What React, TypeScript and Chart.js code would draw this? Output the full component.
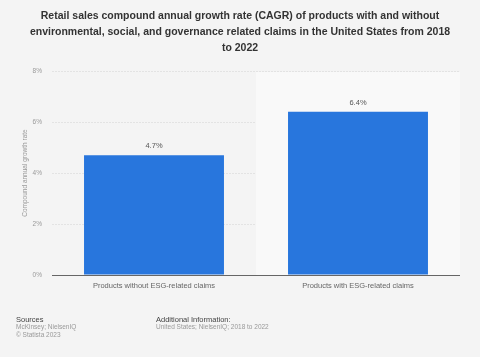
import React, { useEffect, useRef } from "react";
import { Chart, registerables } from "chart.js";

Chart.register(...registerables);

const categories = ["Products without ESG-related claims", "Products with ESG-related claims"];
const values = [4.7, 6.4];
const valueLabels = ["4.7%", "6.4%"];
const titleLines = [
  "Retail sales compound annual growth rate (CAGR) of products with and without",
  "environmental, social, and governance related claims in the United States from 2018",
  "to 2022",
];
const yAxisTitle = "Compound annual growth rate";
const highlightIndex = 1;

const FONT = "'Liberation Sans', Arial, Helvetica, sans-serif";

const decorPlugin = {
  id: "decor",
  beforeDatasetsDraw(chart: any) {
    const { ctx, chartArea } = chart;
    const n = categories.length;
    const w = (chartArea.right - chartArea.left) / n;
    const left = chartArea.left + w * highlightIndex;
    ctx.save();
    ctx.fillStyle = "#f9f9f9";
    ctx.fillRect(left, chartArea.top + 1, w, chartArea.bottom - chartArea.top - 1);
    ctx.restore();
  },
  afterDatasetsDraw(chart: any) {
    const { ctx, chartArea } = chart;
    const meta = chart.getDatasetMeta(0);
    ctx.save();
    ctx.strokeStyle = "#666";
    ctx.lineWidth = 1;
    ctx.beginPath();
    ctx.moveTo(chartArea.left, Math.round(chartArea.bottom) + 0.5);
    ctx.lineTo(chartArea.right, Math.round(chartArea.bottom) + 0.5);
    ctx.stroke();
    ctx.fillStyle = "#555";
    ctx.font = `7.5px ${FONT}`;
    ctx.textAlign = "center";
    ctx.textBaseline = "bottom";
    meta.data.forEach((bar: any, i: number) => {
      ctx.fillText(valueLabels[i], bar.x, bar.y - 5);
    });
    ctx.restore();
  },
  afterDraw(chart: any) {
    const { ctx } = chart;
    ctx.save();
    ctx.fillStyle = "#333";
    ctx.font = `bold 10.5px ${FONT}`;
    ctx.textAlign = "center";
    ctx.textBaseline = "middle";
    titleLines.forEach((l, i) => ctx.fillText(l, 240, 16 + i * 16));
    ctx.textAlign = "left";
    ctx.font = `7.5px ${FONT}`;
    ctx.fillStyle = "#444";
    ctx.fillText("Sources", 16, 320);
    ctx.fillText("Additional Information:", 156, 320);
    ctx.fillStyle = "#999";
    ctx.font = `6.5px ${FONT}`;
    ctx.fillText("McKinsey; NielsenIQ", 16, 327.5);
    ctx.fillText("© Statista 2023", 16, 335);
    ctx.fillText("United States; NielsenIQ; 2018 to 2022", 156, 327.5);
    ctx.restore();
  },
};

export default function App() {
  const ref = useRef<HTMLCanvasElement>(null);
  useEffect(() => {
    if (!ref.current) return;
    const chart = new Chart(ref.current, {
      type: "bar",
      data: {
        labels: categories,
        datasets: [
          {
            data: values,
            backgroundColor: "#2876dd",
            borderWidth: 0,
            categoryPercentage: 1,
            barPercentage: 0.686,
          },
        ],
      },
      options: {
        animation: false,
        responsive: false,
        maintainAspectRatio: false,
        devicePixelRatio: 1,
        layout: { padding: { top: 71, left: 0, right: 20, bottom: 0 } },
        plugins: {
          legend: { display: false },
          title: { display: false },
          tooltip: { enabled: false },
        },
        scales: {
          x: {
            grid: { display: false, drawTicks: false },
            border: { display: false },
            ticks: {
              color: "#666",
              font: { family: FONT, size: 7.5 },
              padding: 6,
              maxRotation: 0,
            },
            afterFit(scale: any) {
              scale.height = 82;
            },
          },
          y: {
            min: 0,
            max: 8,
            ticks: {
              stepSize: 2,
              color: "#999",
              font: { family: FONT, size: 6.5 },
              padding: 10,
              callback: (v: any) => `${v}%`,
            },
            grid: { color: "#e3e3e3", lineWidth: 1, drawTicks: false },
            border: { display: false, dash: [2, 1] },
            title: {
              display: true,
              text: yAxisTitle,
              color: "#999",
              font: { family: FONT, size: 6.5 },
              padding: { top: 21, bottom: 0 },
            },
            afterFit(scale: any) {
              scale.width = 52;
            },
          },
        },
      },
      plugins: [decorPlugin],
    });
    return () => chart.destroy();
  }, []);
  return (
    <div style={{ position: "fixed", left: 0, top: 0, width: 480, height: 357, background: "#f4f4f4" }}>
      <canvas ref={ref} width={480} height={357} style={{ width: 480, height: 357, display: "block" }} />
    </div>
  );
}
